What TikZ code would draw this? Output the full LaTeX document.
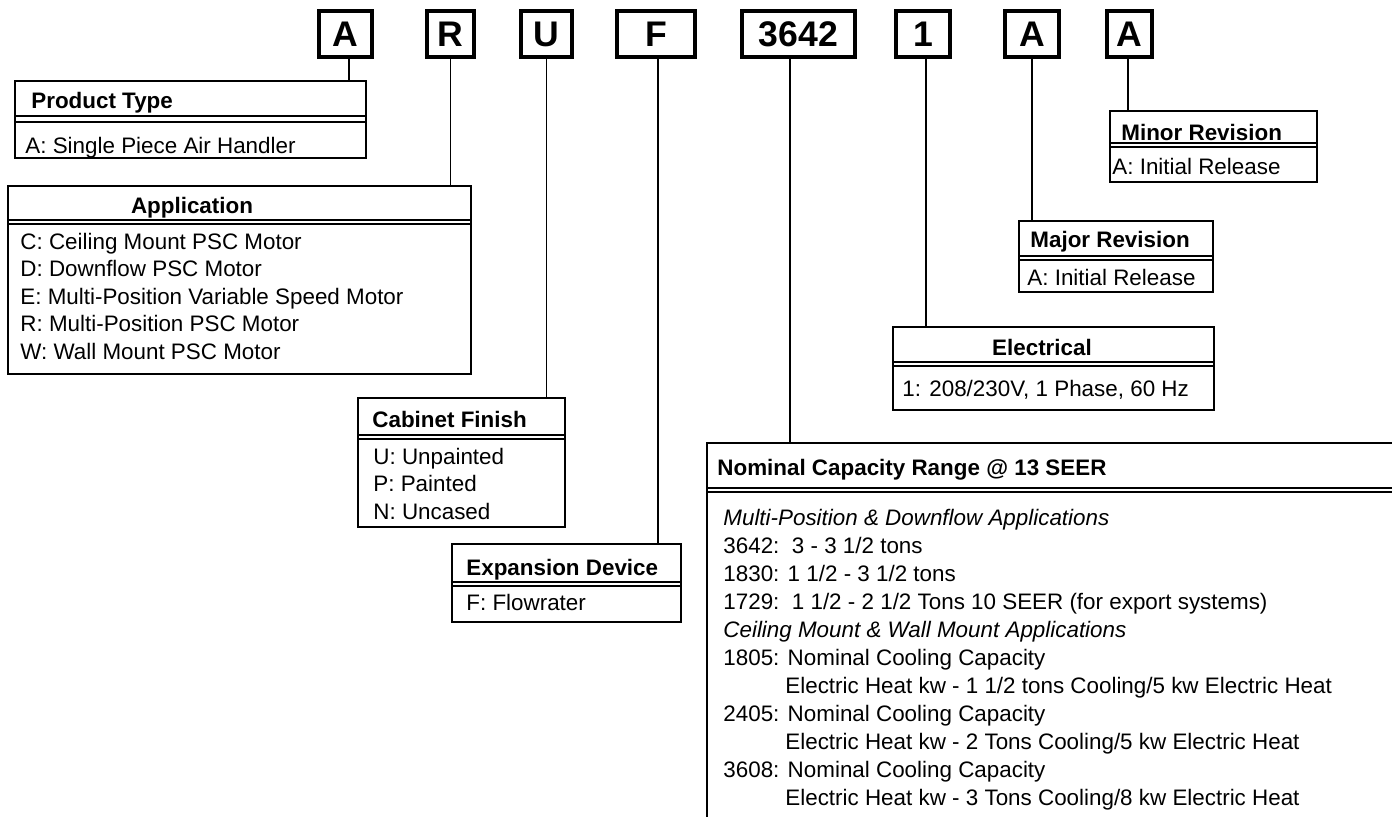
\documentclass[tikz,border=0pt]{standalone}
\usepackage{fontspec}
\setmainfont{Liberation Sans}
\usetikzlibrary{positioning, fit}

\begin{document}
\begin{tikzpicture}[
    x=0.5pt, y=-0.5pt,
    codeletter/.style={draw, line width=2pt, inner sep=0pt, minimum height=23pt,
                       font=\fontsize{17.8}{20}\selectfont\bfseries},
    codebox/.style={draw, line width=0.75pt, inner sep=0pt},
    boxtitle/.style={anchor=base west, inner sep=0pt,
                     font=\fontsize{11.2}{13.75}\selectfont\bfseries},
    boxtext/.style={anchor=base west, inner sep=0pt, align=left,
                    font=\fontsize{11.2}{13.75}\selectfont},
    dblline/.style={line width=0.8pt},
    leader/.style={line width=0.75pt}
]
\useasboundingbox (0,0) rectangle (1392,816);
\clip (0,0) rectangle (1392,816);

% model number characters
\node[codeletter, minimum width=26.5pt] (cA) at (345.5,34) {A};
\node[codeletter, minimum width=23.5pt] (cR) at (450.5,34) {R};
\node[codeletter, minimum width=25.5pt] (cU) at (546.5,34) {U};
\node[codeletter, minimum width=39pt] (cF) at (656,34) {F};
\node[codeletter, minimum width=56.5pt] (cCap) at (798.5,34) {3642};
\node[codeletter, minimum width=27pt] (cElec) at (923,34) {1};
\node[codeletter, minimum width=27pt] (cMajor) at (1032,34) {A};
\node[codeletter, minimum width=22.5pt] (cMinor) at (1129.5,34) {A};

% description boxes
\node[codebox, fit={(15,81) (366,158)}] (ptype) {};
\node[codebox, fit={(8,186) (471,374)}] (app) {};
\node[codebox, fit={(358,398) (565,527)}] (cab) {};
\node[codebox, fit={(452,544) (681,622)}] (expn) {};
\node[codebox, fit={(707,443) (1430,860)}] (cap) {};
\node[codebox, fit={(893,327) (1214,410)}] (elec) {};
\node[codebox, fit={(1019,221) (1213,292)}] (major) {};
\node[codebox, fit={(1110,111) (1317,182)}] (minor) {};

% double rules under the titles
\draw[dblline] ([yshift=-18pt]ptype.north west) -- ([yshift=-18pt]ptype.north east)
               ([yshift=-20.75pt]ptype.north west) -- ([yshift=-20.75pt]ptype.north east);
\draw[dblline] ([yshift=-17.25pt]app.north west) -- ([yshift=-17.25pt]app.north east)
               ([yshift=-19.5pt]app.north west) -- ([yshift=-19.5pt]app.north east);
\draw[dblline] ([yshift=-19pt]cab.north west) -- ([yshift=-19pt]cab.north east)
               ([yshift=-21pt]cab.north west) -- ([yshift=-21pt]cab.north east);
\draw[dblline] ([yshift=-19.5pt]expn.north west) -- ([yshift=-19.5pt]expn.north east)
               ([yshift=-21.5pt]expn.north west) -- ([yshift=-21.5pt]expn.north east);
\draw[dblline] ([yshift=-23pt]cap.north west) -- ([yshift=-23pt]cap.north east)
               ([yshift=-25pt]cap.north west) -- ([yshift=-25pt]cap.north east);
\draw[dblline] ([yshift=-18pt]elec.north west) -- ([yshift=-18pt]elec.north east)
               ([yshift=-20pt]elec.north west) -- ([yshift=-20pt]elec.north east);
\draw[dblline] ([yshift=-18pt]major.north west) -- ([yshift=-18pt]major.north east)
               ([yshift=-20pt]major.north west) -- ([yshift=-20pt]major.north east);
\draw[dblline] ([yshift=-16.5pt]minor.north west) -- ([yshift=-16.5pt]minor.north east)
               ([yshift=-18.5pt]minor.north west) -- ([yshift=-18.5pt]minor.north east);

% titles and entries (multi-line entries sit on their last baseline)
\node[boxtitle] (ptypetitle) at (31,108) {Product Type};
\node[boxtext] (ptypetext) at (25,153) {A: Single Piece Air Handler};

\node[boxtitle, anchor=base] (apptitle) at (192,213) {Application};
\node[boxtext] (apptext) at (20,359) {C: Ceiling Mount PSC Motor\\
  D: Downflow PSC Motor\\
  E: Multi-Position Variable Speed Motor\\
  R: Multi-Position PSC Motor\\
  W: Wall Mount PSC Motor};

\node[boxtitle] (cabtitle) at (372,427) {Cabinet Finish};
\node[boxtext] (cabtext) at (373,519) {U: Unpainted\\ P: Painted\\ N: Uncased};

\node[boxtitle] (expntitle) at (466,575) {Expansion Device};
\node[boxtext] (expntext) at (466,610) {F: Flowrater};

\node[boxtitle] (captitle) at (717,475) {Nominal Capacity Range @ 13 SEER};
\node[boxtext, font=\fontsize{11.2}{14}\selectfont] (captext) at (723,805)
  {\textit{Multi-Position \& Downflow Applications}\\
   3642:\ \ 3 - 3 1/2 tons\\
   1830: 1 1/2 - 3 1/2 tons\\
   1729:\ \ 1 1/2 - 2 1/2 Tons 10 SEER (for export systems)\\
   \textit{Ceiling Mount \& Wall Mount Applications}\\
   1805: Nominal Cooling Capacity\\
   \hspace*{31pt}Electric Heat kw - 1 1/2 tons Cooling/5 kw Electric Heat\\
   2405: Nominal Cooling Capacity\\
   \hspace*{31pt}Electric Heat kw - 2 Tons Cooling/5 kw Electric Heat\\
   3608: Nominal Cooling Capacity\\
   \hspace*{31pt}Electric Heat kw - 3 Tons Cooling/8 kw Electric Heat};

\node[boxtitle, anchor=base] (electitle) at (1042,355) {Electrical};
\node[boxtext] (electext) at (902,396) {1: 208/230V, 1 Phase, 60 Hz};

\node[boxtitle] (majortitle) at (1030,247) {Major Revision};
\node[boxtext] (majortext) at (1027,285) {A: Initial Release};

\node[boxtitle] (minortitle) at (1121,140) {Minor Revision};
\node[boxtext] (minortext) at (1112,174) {A: Initial Release};

% leaders from characters to boxes
\draw[leader] ([xshift=1.75pt]cA.south) -- ([xshift=1.75pt]cA.south |- ptype.north);
\draw[leader] (cR.south) -- (cR.south |- app.north);
\draw[leader] (cU.south) -- (cU.south |- cab.north);
\draw[leader] ([xshift=1pt]cF.south) -- ([xshift=1pt]cF.south |- expn.north);
\draw[leader] ([xshift=-4.25pt]cCap.south) -- ([xshift=-4.25pt]cCap.south |- cap.north);
\draw[leader] ([xshift=1.5pt]cElec.south) -- ([xshift=1.5pt]cElec.south |- elec.north);
\draw[leader] (cMajor.south) -- (cMajor.south |- major.north);
\draw[leader] ([xshift=-0.75pt]cMinor.south) -- ([xshift=-0.75pt]cMinor.south |- minor.north);
\end{tikzpicture}
\end{document}
